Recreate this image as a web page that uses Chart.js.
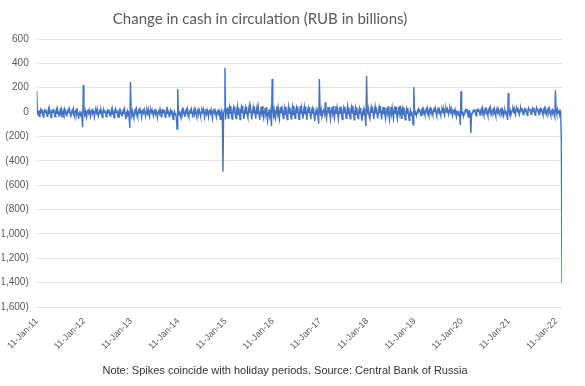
<!DOCTYPE html>
<html>
<head>
<meta charset="utf-8">
<script src="https://cdn.jsdelivr.net/npm/chart.js@4.4.1/dist/chart.umd.min.js"></script>
<style>
  html, body { margin: 0; padding: 0; background: #ffffff; }
  #wrap { width: 585px; height: 386px; position: relative; }
</style>
</head>
<body>
<div id="wrap"><canvas id="c" width="585" height="386"></canvas></div>
<script>
// ---- data (readings taken ~6 per month, 72 per year, starting 11-Jan of each year) ----
const titleText = "Change in cash in circulation (RUB in billions)";
const noteText = "Note: Spikes coincide with holiday periods. Source: Central Bank of Russia";
const tickLabels = ["11-Jan-11","11-Jan-12","11-Jan-13","11-Jan-14","11-Jan-15","11-Jan-16",
                    "11-Jan-17","11-Jan-18","11-Jan-19","11-Jan-20","11-Jan-21","11-Jan-22"];
const years = [2011,2012,2013,2014,2015,2016,2017,2018,2019,2020,2021,2022];

const y2011 = [172,10,-22,14,-36,2, 20,-8,24,-14,-40,6, 16,-4,22,-10,-34,-2, 25,-12,18,-6,-44,8,
               14,-2,26,-16,-38,4, 22,-10,16,-8,-32,-4, 18,-6,24,-12,-46,6, 26,-14,12,-4,-36,2,
               20,-8,22,-10,-42,-2, 15,-4,25,-18,-38,8, 18,-12,14,-20,-55,-10, 8,-25,-10,-45,-125,222];
const y2012 = [15,-20,10,-30,-48,4, 22,-6,18,-12,-36,6, 24,-10,14,-8,-42,2, 17,-4,26,-16,-34,-2,
               21,-12,19,-6,-44,8, 25,-2,15,-14,-38,4, 14,-8,23,-10,-32,-4, 20,-16,17,-6,-46,6,
               26,-4,21,-12,-40,2, 18,-10,13,-8,-36,-6, 16,-14,20,-22,-58,-8, 10,-20,-6,-50,-130,246];
const y2013 = [20,-18,8,-32,-50,2, 18,-6,24,-14,-38,6, 22,-12,16,-8,-44,4, 26,-4,20,-10,-36,-2,
               15,-10,23,-16,-40,8, 21,-2,17,-12,-34,4, 24,-14,12,-6,-46,-4, 19,-8,25,-10,-38,6,
               17,-6,21,-14,-42,2, 23,-12,15,-4,-36,-6, 14,-16,18,-24,-60,-10, 6,-22,-8,-55,-140,189];
const y2014 = [18,-22,6,-34,-48,4, 24,-8,16,-10,-40,6, 20,-4,26,-14,-36,2, 15,-12,22,-6,-44,-2,
               25,-6,18,-16,-38,8, 22,-10,14,-8,-34,4, 18,-2,24,-12,-46,-4, 26,-14,16,-6,-40,6,
               21,-8,20,-10,-52,2, 28,-4,14,-18,-44,-6, 20,-12,10,-26,-60,-8, 15,-10,-490,-20,20,361];
const y2015 = [-60,30,-20,40,-50,10, 42,-10,50,-25,-58,6, 36,-5,45,-30,-52,12, 48,-18,38,-12,-62,8,
               40,-8,52,-22,-55,4, 35,-15,44,-28,-48,10, 50,-6,40,-20,-60,2, 38,-12,48,-16,-54,14,
               45,-20,36,-10,-64,6, 42,-4,50,-26,-50,8, 34,-14,40,-30,-70,-6, 20,-30,10,-45,-115,271];
const y2016 = [30,-25,20,-35,-55,8, 46,-10,38,-22,-58,12, 40,-6,50,-18,-52,4, 36,-16,44,-28,-62,10,
               48,-8,40,-14,-56,6, 42,-20,52,-24,-50,14, 38,-4,46,-30,-60,2, 50,-12,36,-16,-54,8,
               44,-18,48,-20,-64,12, 36,-6,42,-26,-58,4, 30,-16,38,-32,-72,-8, 18,-24,6,-50,-95,271];
const y2017 = [25,-30,15,-40,-20,10, 30,-8,80,-20,-55,6, 44,-12,40,-18,-60,8, 38,-6,50,-24,-52,12,
               46,-16,36,-14,-58,4, 40,-10,48,-28,-62,10, 36,-4,44,-20,-50,6, 48,-14,38,-22,-56,14,
               42,-8,52,-16,-64,2, 35,-18,40,-26,-52,8, 32,-12,36,-34,-70,-6, 20,-28,8,-48,-115,296];
const y2018 = [30,-20,22,-38,-55,6, 40,-6,46,-18,-58,10, 46,-14,38,-22,-52,4, 38,-8,50,-16,-60,12,
               44,-18,40,-26,-56,8, 36,-4,48,-20,-62,6, 42,-12,36,-14,-54,10, 48,-16,44,-24,-58,2,
               40,-6,52,-18,-50,14, 34,-20,38,-28,-64,6, 30,-10,34,-30,-68,-8, 16,-26,4,-46,-105,205];
const y2019 = [20,-18,10,-30,-10,12, 28,5,24,-6,-28,14, 30,8,26,-4,-25,10, 26,2,32,-8,-30,16,
               32,6,22,-2,-24,12, 28,0,30,-10,-32,14, 30,10,24,-4,-26,8, 24,4,34,-6,-28,16,
               34,8,26,-2,-22,12, 28,2,30,-8,-30,10, 22,-6,20,-16,-40,4, 10,-20,-5,-35,-105,172];
const y2020 = [15,-25,5,-35,-15,10, 20,2,26,-8,-40,12, 10,-10,-172,-30,-10,8, 15,4,24,-6,-30,14,
               22,6,28,-4,-24,10, 26,2,32,-6,-26,16, 28,8,24,-2,-28,12, 30,4,34,-8,-22,14,
               24,6,28,-4,-30,10, 32,10,26,-2,-20,16, 26,0,22,-10,-32,8, 14,-12,-2,-30,-65,156];
const y2021 = [20,-14,12,-25,-5,14, 28,6,32,-4,-24,16, 30,10,26,-2,-22,12, 32,8,34,-6,-20,18,
               26,4,30,-8,-26,14, 34,12,28,0,-18,16, 30,6,36,-4,-24,12, 36,10,30,-2,-20,18,
               28,4,32,-8,-26,14, 34,12,30,-4,-22,16, 30,2,26,-10,-30,10, 20,-8,8,-20,-40,180];
const y2022 = [10,-15,20,-8,15,-20,12,-5,-230,-1400];

const yearSeries = [y2011,y2012,y2013,y2014,y2015,y2016,y2017,y2018,y2019,y2020,y2021,y2022];
const samplesPerYear = 72;

// build {x,y} points: x = years since 11-Jan-2011
const points = [];
yearSeries.forEach((arr, k) => {
  arr.forEach((v, i) => points.push({ x: (years[k] - 2011) + i / samplesPerYear, y: v }));
});

function fmtY(v) {
  const s = Math.abs(v).toLocaleString('en-US');
  return v < 0 ? '(' + s + ')' : s;
}

const textPlugin = {
  id: 'texts',
  afterDraw(chart) {
    const ctx = chart.ctx;
    ctx.save();
    ctx.textAlign = 'center';
    ctx.textBaseline = 'middle';
    ctx.fillStyle = '#595959';
    ctx.font = '15px Lato';
    ctx.fillText(titleText, 260, 19);
    ctx.fillStyle = '#333333';
    ctx.font = '11px "Liberation Sans"';
    ctx.fillText(noteText, 285, 371);
    ctx.restore();
  }
};

new Chart(document.getElementById('c'), {
  type: 'line',
  data: {
    datasets: [{
      data: points,
      borderColor: '#4472C4',
      borderWidth: 1.4,
      pointRadius: 0,
      tension: 0,
      fill: false
    }]
  },
  options: {
    responsive: false,
    animation: false,
    layout: { padding: { top: 39, right: 23, bottom: 0, left: 0 } },
    plugins: {
      legend: { display: false },
      title: { display: false },
      tooltip: { enabled: false }
    },
    scales: {
      x: {
        type: 'linear',
        min: 0,
        max: 11.125,
        grid: { display: false, drawTicks: false },
        border: { display: false },
        afterFit(axis) { axis.height = 79; },
        afterBuildTicks(axis) {
          axis.ticks = tickLabels.map((_, i) => ({ value: i }));
        },
        ticks: {
          includeBounds: false,
          stepSize: 1,
          autoSkip: false,
          minRotation: 45,
          maxRotation: 45,
          padding: 9,
          color: '#595959',
          font: { family: 'Liberation Sans', size: 9 },
          callback: (v) => tickLabels[Math.round(v)]
        }
      },
      y: {
        min: -1600,
        max: 600,
        grid: { color: '#e4e4e4', drawTicks: false, lineWidth: 1 },
        border: { display: false },
        afterFit(axis) { axis.width = 35; },
        ticks: {
          stepSize: 200,
          padding: 8,
          color: '#595959',
          font: { family: 'Liberation Sans', size: 10 },
          callback: (v) => fmtY(v)
        }
      }
    }
  },
  plugins: [textPlugin]
});
</script>
</body>
</html>
